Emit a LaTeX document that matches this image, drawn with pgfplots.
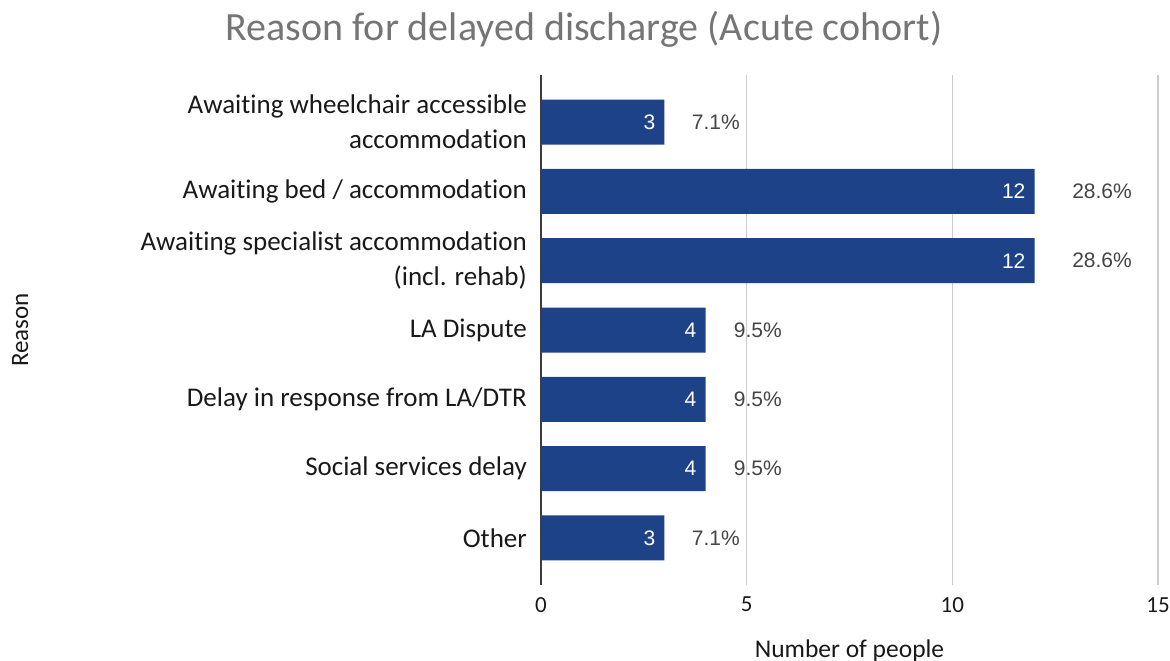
\documentclass[border=0pt]{standalone}
\usepackage{pgfplots}
\pgfplotsset{compat=1.18}
\usepackage{fontspec}
\setmainfont{Carlito}[Ligatures={NoCommon}]
\newfontfamily\rob{Liberation Sans}
\pgfkeys{/pgf/number format/assume math mode=true}
\definecolor{barblue}{RGB}{30,66,136}
\definecolor{titlegray}{RGB}{117,117,117}
\definecolor{pctgray}{RGB}{68,68,68}
\definecolor{gridgray}{RGB}{204,204,204}
\definecolor{axisgray}{RGB}{60,60,60}
\begin{document}
\begin{tikzpicture}
\path[use as bounding box] (-541pt,-76pt) rectangle (629pt,585pt);
\begin{axis}[
  at={(0pt,0pt)}, anchor=south west,
  scale only axis, width=617pt, height=510pt,
  xmin=0, xmax=15, ymin=-0.68, ymax=6.68, y dir=reverse,
  axis line style={draw=none},
  major tick length=0pt,
  xtick={5,10,15},
  extra x ticks={0}, extra x tick labels={0},
  xmajorgrids,
  grid style={draw=gridgray, line width=1.2pt},
  extra x tick style={grid style={draw=axisgray, line width=1.3pt}},
  ytick={0,1,2,3,4,5,6},
  yticklabels={{Awaiting wheelchair accessible\\accommodation},
               {Awaiting bed / accommodation},
               {Awaiting specialist accommodation\\(incl. rehab)},
               {LA Dispute},
               {Delay in response from LA/DTR},
               {Social services delay},
               {Other}},
  yticklabel style={align=right, font=\fontsize{27}{35}\selectfont, text=black!90, inner sep=0pt, xshift=-14pt},
  xticklabel style={font=\fontsize{23}{23}\selectfont, text=black!90, inner sep=0pt, yshift=-12pt},
  xlabel={Number of people},
  xlabel style={at={(rel axis cs:0.5,0)}, anchor=north, yshift=-55pt, inner sep=0pt, font=\fontsize{25.5}{25.5}\selectfont, text=black!90},
  ylabel={Reason},
  ylabel style={at={(axis description cs:-0.844,0.5)}, anchor=center, inner sep=0pt, font=\fontsize{25}{25}\selectfont, text=black!90},
  title={Reason for delayed discharge (Acute cohort)},
  title style={at={(rel axis cs:0,1)}, anchor=base, xshift=43pt, yshift=29pt, inner sep=0pt, font=\fontsize{40}{40}\selectfont, text=titlegray},
  clip=false,
]
\addplot[xbar, bar width=45pt, fill=barblue, draw=none,
  point meta=x, nodes near coords,
  nodes near coords style={anchor=east, xshift=-9pt, inner sep=0pt, text=white, font=\rob\fontsize{21}{21}\selectfont}]
  coordinates {(3,0) (12,1) (12,2) (4,3) (4,4) (4,5) (3,6)};
\addplot[draw=none, mark=none, only marks,
  point meta=explicit, nodes near coords={\pgfmathprintnumber[fixed,precision=1,fixed zerofill]{\pgfplotspointmeta}\%},
  nodes near coords style={anchor=center, inner sep=0pt, text=pctgray, font=\rob\fontsize{21}{21}\selectfont}]
  table[x=x, y=y, meta=p] {
x y p
4.25 0 7.1
13.64 1 28.6
13.64 2 28.6
5.27 3 9.5
5.27 4 9.5
5.27 5 9.5
4.25 6 7.1
};
\end{axis}
\end{tikzpicture}
\end{document}
